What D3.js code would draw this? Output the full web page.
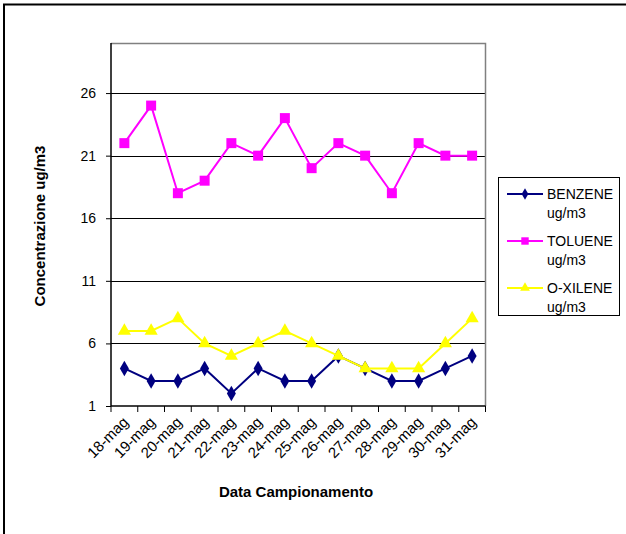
<!DOCTYPE html>
<html>
<head>
<meta charset="utf-8">
<script src="https://cdn.jsdelivr.net/npm/d3@7"></script>
<style>
  body { margin: 0; background: #fff; }
  svg { display: block; font-family: "Liberation Sans", Arial, sans-serif; }
</style>
</head>
<body>
<div id="vis"></div>
<script>

var dates = ['18-mag','19-mag','20-mag','21-mag','22-mag','23-mag','24-mag',
             '25-mag','26-mag','27-mag','28-mag','29-mag','30-mag','31-mag'];

var benzene = [4, 3, 3, 4, 2, 4, 3, 3, 5, 4, 3, 3, 4, 5];
var toluene = [22, 25, 18, 19, 22, 21, 24, 20, 22, 21, 18, 22, 21, 21];
var xilene  = [7, 7, 8, 6, 5, 6, 7, 6, 5, 4, 4, 4, 6, 8];

var yTicks = [1, 6, 11, 16, 21, 26];

var seriesNames = ['BENZENE', 'TOLUENE', 'O-XILENE'];

var width = 626;
var height = 534;

var plot = { left : 111, top : 43, right : 485.5, bottom : 406 };

var series = [
    { name : seriesNames[0], values : benzene, color : '#000080', shape : d3.symbolDiamond, size : 70 },
    { name : seriesNames[1], values : toluene, color : '#FF00FF', shape : d3.symbolSquare,  size : 100 },
    { name : seriesNames[2], values : xilene,  color : '#FFFF00', shape : d3.symbolTriangle, size : 75 }
];

var svg = d3.select('#vis')
    .append('svg')
    .attr('width', width)
    .attr('height', height);

svg.append('rect')
    .attr('width', width)
    .attr('height', height)
    .attr('fill', '#fff');

// outer chart border (only left and top visible)
svg.append('path')
    .attr('d', 'M4,' + height + 'V4.5H' + width)
    .attr('fill', 'none')
    .attr('stroke', '#000')
    .attr('stroke-width', 2);

var x = d3.scaleBand()
    .domain(dates)
    .range([plot.left, plot.right]);

var y = d3.scaleLinear()
    .domain([1, 30])
    .range([plot.bottom, plot.top]);

// gridlines
svg.append('g')
    .selectAll('line')
    .data(yTicks.slice(1))
    .enter().append('line')
    .attr('x1', plot.left)
    .attr('x2', plot.right)
    .attr('y1', function (d) { return Math.round(y(d)) + 0.5; })
    .attr('y2', function (d) { return Math.round(y(d)) + 0.5; })
    .attr('stroke', '#000')
    .attr('stroke-width', 1);

// plot area frame (top / right in grey)
svg.append('path')
    .attr('d', 'M' + plot.left + ',' + (plot.top + 0.5) + 'H' + plot.right + 'V' + plot.bottom)
    .attr('fill', 'none')
    .attr('stroke', '#808080')
    .attr('stroke-width', 1.5);

// y axis
var yAxis = svg.append('g')
    .attr('transform', 'translate(' + plot.left + ',0)')
    .call(d3.axisLeft(y).tickValues(yTicks).tickSize(5).tickPadding(10).tickSizeOuter(0));

yAxis.select('.domain').attr('stroke', '#000').attr('stroke-width', 1.5)
    .attr('d', 'M0,' + plot.top + 'V' + plot.bottom);
yAxis.selectAll('.tick line').attr('stroke', '#000');
yAxis.selectAll('.tick text')
    .attr('font-size', 14)
    .attr('font-family', '"Liberation Sans", Arial, sans-serif')
    .attr('fill', '#000');

// x axis: ticks at category boundaries
var xAxis = svg.append('g')
    .attr('transform', 'translate(0,' + plot.bottom + ')');

xAxis.append('line')
    .attr('x1', plot.left)
    .attr('x2', plot.right)
    .attr('stroke', '#000')
    .attr('stroke-width', 1.5);

var bounds = dates.map(function (d) { return x(d); }).concat([plot.right]);

xAxis.selectAll('.xtick')
    .data(bounds)
    .enter().append('line')
    .attr('class', 'xtick')
    .attr('x1', function (d) { return d; })
    .attr('x2', function (d) { return d; })
    .attr('y1', 0)
    .attr('y2', 6)
    .attr('stroke', '#000');

xAxis.selectAll('.xlabel')
    .data(dates)
    .enter().append('text')
    .attr('class', 'xlabel')
    .attr('text-anchor', 'end')
    .attr('font-size', 15)
    .attr('transform', function (d) {
        return 'translate(' + (x(d) + x.bandwidth() / 2 + 5) + ',17) rotate(-45)';
    })
    .text(function (d) { return d; });

// series
var line = d3.line()
    .x(function (d, i) { return x(dates[i]) + x.bandwidth() / 2; })
    .y(function (d) { return y(d); });

series.forEach(function (s) {
    var g = svg.append('g');

    g.append('path')
        .datum(s.values)
        .attr('d', line)
        .attr('fill', 'none')
        .attr('stroke', s.color)
        .attr('stroke-width', 2);

    g.selectAll('.marker')
        .data(s.values)
        .enter().append('path')
        .attr('class', 'marker')
        .attr('d', d3.symbol().type(s.shape).size(s.size))
        .attr('transform', function (d, i) {
            return 'translate(' + (x(dates[i]) + x.bandwidth() / 2) + ',' + y(d) + ')';
        })
        .attr('fill', s.color);
});

// axis titles
svg.append('text')
    .attr('transform', 'translate(45,226) rotate(-90)')
    .attr('text-anchor', 'middle')
    .attr('font-size', 15)
    .attr('font-weight', 'bold')
    .text('Concentrazione ug/m3');

svg.append('text')
    .attr('x', 296)
    .attr('y', 497)
    .attr('text-anchor', 'middle')
    .attr('font-size', 15)
    .attr('font-weight', 'bold')
    .text('Data Campionamento');

// legend
var legend = svg.append('g');

legend.append('rect')
    .attr('x', 498.5)
    .attr('y', 177.5)
    .attr('width', 121)
    .attr('height', 138)
    .attr('fill', '#fff')
    .attr('stroke', '#000')
    .attr('stroke-width', 1);

var items = legend.selectAll('.item')
    .data(series)
    .enter().append('g')
    .attr('class', 'item')
    .attr('transform', function (d, i) { return 'translate(0,' + (194 + i * 47) + ')'; });

items.append('line')
    .attr('x1', 507)
    .attr('x2', 543)
    .attr('stroke', function (d) { return d.color; })
    .attr('stroke-width', 2);

items.append('path')
    .attr('d', function (d) { return d3.symbol().type(d.shape).size(d.size * 0.55)(); })
    .attr('transform', 'translate(525,0)')
    .attr('fill', function (d) { return d.color; });

var lt = items.append('text')
    .attr('font-size', 14)
    .attr('y', 5);

lt.append('tspan')
    .attr('x', 547)
    .text(function (d) { return d.name; });

lt.append('tspan')
    .attr('x', 547)
    .attr('dy', 18.5)
    .text('ug/m3');

</script>
</body>
</html>
